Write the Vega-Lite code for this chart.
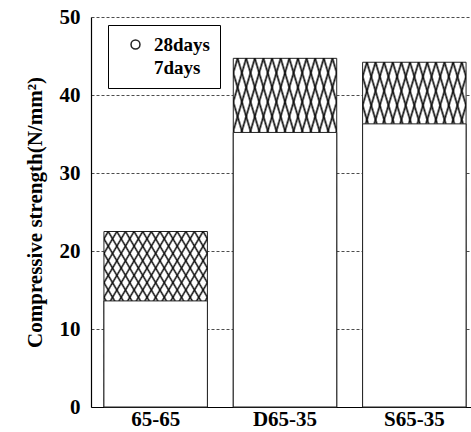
{
  "$schema": "https://vega.github.io/schema/vega-lite/v6.json",
  "autosize": "none",
  "width": 380,
  "height": 390,
  "padding": {"left": 91, "top": 17, "right": 0, "bottom": 25},
  "background": "white",
  "config": {
    "view": {"stroke": null},
    "font": "Liberation Serif"
  },
  "data": {
    "values": [
      {"group": "65-65", "age": "28days", "value": 22.5},
      {"group": "65-65", "age": "7days", "value": 13.6},
      {"group": "D65-35", "age": "28days", "value": 44.7},
      {"group": "D65-35", "age": "7days", "value": 35.2},
      {"group": "S65-35", "age": "28days", "value": 44.2},
      {"group": "S65-35", "age": "7days", "value": 36.3}
    ]
  },
  "encoding": {
    "x": {
      "field": "group", "type": "nominal", "sort": ["65-65", "D65-35", "S65-35"],
      "scale": {"range": [0, 388], "paddingInner": 0.2, "paddingOuter": 0.1},
      "axis": {"title": null, "labelAngle": 0, "ticks": false, "labelPadding": 1, "labelFont": "Liberation Serif", "labelFontSize": 21, "labelFontWeight": "bold", "labelColor": "#000", "domainColor": "#000", "domainWidth": 1.2, "grid": false}
    },
    "y": {
      "field": "value", "type": "quantitative",
      "scale": {"domain": [0, 50], "nice": false},
      "axis": {"title": "Compressive strength(N/mm²)", "values": [0, 10, 20, 30, 40, 50], "ticks": false, "labelPadding": 11, "labelFont": "Liberation Serif", "labelFontSize": 21, "labelFontWeight": "bold", "labelColor": "#000", "titleFont": "Liberation Serif", "titleFontSize": 21, "titleFontWeight": "bold", "titleColor": "#000", "titlePadding": 14, "domainColor": "#000", "domainWidth": 1.2, "grid": true, "gridColor": "#000", "gridDash": [3, 2], "gridWidth": 0.7}
    }
  },
  "layer": [
    {
      "transform": [{"filter": "datum.age === '28days'"}],
      "mark": {"type": "bar", "fill": "white", "strokeWidth": 1},
      "encoding": {
        "stroke": {
          "field": "age", "type": "nominal",
          "scale": {"domain": ["28days", "7days"], "range": ["#222", "white"]},
          "legend": {"title": null, "orient": "none", "legendX": 17, "legendY": 8, "padding": 10, "strokeColor": "#000", "fillColor": "white", "symbolType": "circle", "symbolSize": 80, "symbolFillColor": "white", "symbolStrokeWidth": 1.5, "symbolOffset": 8, "labelFont": "Liberation Serif", "labelFontSize": 19, "labelFontWeight": "bold", "labelColor": "#000", "labelOffset": 9, "rowPadding": 3}
        }
      }
    },
    {
      "transform": [{"filter": "datum.age === '28days'"}],
      "mark": {"type": "bar", "strokeWidth": 0, "fill": {"gradient": "linear", "x1": 0, "y1": 0, "x2": 1, "y2": 1, "stops": [
        {"offset": 0.0125, "color": "rgba(0,0,0,0)"}, {"offset": 0.0208, "color": "#111"}, {"offset": 0.0292, "color": "rgba(0,0,0,0)"},
        {"offset": 0.0542, "color": "rgba(0,0,0,0)"}, {"offset": 0.0625, "color": "#111"}, {"offset": 0.0708, "color": "rgba(0,0,0,0)"},
        {"offset": 0.0958, "color": "rgba(0,0,0,0)"}, {"offset": 0.1042, "color": "#111"}, {"offset": 0.1125, "color": "rgba(0,0,0,0)"},
        {"offset": 0.1375, "color": "rgba(0,0,0,0)"}, {"offset": 0.1458, "color": "#111"}, {"offset": 0.1542, "color": "rgba(0,0,0,0)"},
        {"offset": 0.1792, "color": "rgba(0,0,0,0)"}, {"offset": 0.1875, "color": "#111"}, {"offset": 0.1958, "color": "rgba(0,0,0,0)"},
        {"offset": 0.2208, "color": "rgba(0,0,0,0)"}, {"offset": 0.2292, "color": "#111"}, {"offset": 0.2375, "color": "rgba(0,0,0,0)"},
        {"offset": 0.2625, "color": "rgba(0,0,0,0)"}, {"offset": 0.2708, "color": "#111"}, {"offset": 0.2792, "color": "rgba(0,0,0,0)"},
        {"offset": 0.3042, "color": "rgba(0,0,0,0)"}, {"offset": 0.3125, "color": "#111"}, {"offset": 0.3208, "color": "rgba(0,0,0,0)"},
        {"offset": 0.3458, "color": "rgba(0,0,0,0)"}, {"offset": 0.3542, "color": "#111"}, {"offset": 0.3625, "color": "rgba(0,0,0,0)"},
        {"offset": 0.3875, "color": "rgba(0,0,0,0)"}, {"offset": 0.3958, "color": "#111"}, {"offset": 0.4042, "color": "rgba(0,0,0,0)"},
        {"offset": 0.4292, "color": "rgba(0,0,0,0)"}, {"offset": 0.4375, "color": "#111"}, {"offset": 0.4458, "color": "rgba(0,0,0,0)"},
        {"offset": 0.4708, "color": "rgba(0,0,0,0)"}, {"offset": 0.4792, "color": "#111"}, {"offset": 0.4875, "color": "rgba(0,0,0,0)"},
        {"offset": 0.5125, "color": "rgba(0,0,0,0)"}, {"offset": 0.5208, "color": "#111"}, {"offset": 0.5292, "color": "rgba(0,0,0,0)"},
        {"offset": 0.5542, "color": "rgba(0,0,0,0)"}, {"offset": 0.5625, "color": "#111"}, {"offset": 0.5708, "color": "rgba(0,0,0,0)"},
        {"offset": 0.5958, "color": "rgba(0,0,0,0)"}, {"offset": 0.6042, "color": "#111"}, {"offset": 0.6125, "color": "rgba(0,0,0,0)"},
        {"offset": 0.6375, "color": "rgba(0,0,0,0)"}, {"offset": 0.6458, "color": "#111"}, {"offset": 0.6542, "color": "rgba(0,0,0,0)"},
        {"offset": 0.6792, "color": "rgba(0,0,0,0)"}, {"offset": 0.6875, "color": "#111"}, {"offset": 0.6958, "color": "rgba(0,0,0,0)"},
        {"offset": 0.7208, "color": "rgba(0,0,0,0)"}, {"offset": 0.7292, "color": "#111"}, {"offset": 0.7375, "color": "rgba(0,0,0,0)"},
        {"offset": 0.7625, "color": "rgba(0,0,0,0)"}, {"offset": 0.7708, "color": "#111"}, {"offset": 0.7792, "color": "rgba(0,0,0,0)"},
        {"offset": 0.8042, "color": "rgba(0,0,0,0)"}, {"offset": 0.8125, "color": "#111"}, {"offset": 0.8208, "color": "rgba(0,0,0,0)"},
        {"offset": 0.8458, "color": "rgba(0,0,0,0)"}, {"offset": 0.8542, "color": "#111"}, {"offset": 0.8625, "color": "rgba(0,0,0,0)"},
        {"offset": 0.8875, "color": "rgba(0,0,0,0)"}, {"offset": 0.8958, "color": "#111"}, {"offset": 0.9042, "color": "rgba(0,0,0,0)"},
        {"offset": 0.9292, "color": "rgba(0,0,0,0)"}, {"offset": 0.9375, "color": "#111"}, {"offset": 0.9458, "color": "rgba(0,0,0,0)"},
        {"offset": 0.9708, "color": "rgba(0,0,0,0)"}, {"offset": 0.9792, "color": "#111"}, {"offset": 0.9875, "color": "rgba(0,0,0,0)"}
      ]}}
    },
    {
      "transform": [{"filter": "datum.age === '28days'"}],
      "mark": {"type": "bar", "strokeWidth": 0, "fill": {"gradient": "linear", "x1": 1, "y1": 0, "x2": 0, "y2": 1, "stops": [
        {"offset": 0.0125, "color": "rgba(0,0,0,0)"}, {"offset": 0.0208, "color": "#111"}, {"offset": 0.0292, "color": "rgba(0,0,0,0)"},
        {"offset": 0.0542, "color": "rgba(0,0,0,0)"}, {"offset": 0.0625, "color": "#111"}, {"offset": 0.0708, "color": "rgba(0,0,0,0)"},
        {"offset": 0.0958, "color": "rgba(0,0,0,0)"}, {"offset": 0.1042, "color": "#111"}, {"offset": 0.1125, "color": "rgba(0,0,0,0)"},
        {"offset": 0.1375, "color": "rgba(0,0,0,0)"}, {"offset": 0.1458, "color": "#111"}, {"offset": 0.1542, "color": "rgba(0,0,0,0)"},
        {"offset": 0.1792, "color": "rgba(0,0,0,0)"}, {"offset": 0.1875, "color": "#111"}, {"offset": 0.1958, "color": "rgba(0,0,0,0)"},
        {"offset": 0.2208, "color": "rgba(0,0,0,0)"}, {"offset": 0.2292, "color": "#111"}, {"offset": 0.2375, "color": "rgba(0,0,0,0)"},
        {"offset": 0.2625, "color": "rgba(0,0,0,0)"}, {"offset": 0.2708, "color": "#111"}, {"offset": 0.2792, "color": "rgba(0,0,0,0)"},
        {"offset": 0.3042, "color": "rgba(0,0,0,0)"}, {"offset": 0.3125, "color": "#111"}, {"offset": 0.3208, "color": "rgba(0,0,0,0)"},
        {"offset": 0.3458, "color": "rgba(0,0,0,0)"}, {"offset": 0.3542, "color": "#111"}, {"offset": 0.3625, "color": "rgba(0,0,0,0)"},
        {"offset": 0.3875, "color": "rgba(0,0,0,0)"}, {"offset": 0.3958, "color": "#111"}, {"offset": 0.4042, "color": "rgba(0,0,0,0)"},
        {"offset": 0.4292, "color": "rgba(0,0,0,0)"}, {"offset": 0.4375, "color": "#111"}, {"offset": 0.4458, "color": "rgba(0,0,0,0)"},
        {"offset": 0.4708, "color": "rgba(0,0,0,0)"}, {"offset": 0.4792, "color": "#111"}, {"offset": 0.4875, "color": "rgba(0,0,0,0)"},
        {"offset": 0.5125, "color": "rgba(0,0,0,0)"}, {"offset": 0.5208, "color": "#111"}, {"offset": 0.5292, "color": "rgba(0,0,0,0)"},
        {"offset": 0.5542, "color": "rgba(0,0,0,0)"}, {"offset": 0.5625, "color": "#111"}, {"offset": 0.5708, "color": "rgba(0,0,0,0)"},
        {"offset": 0.5958, "color": "rgba(0,0,0,0)"}, {"offset": 0.6042, "color": "#111"}, {"offset": 0.6125, "color": "rgba(0,0,0,0)"},
        {"offset": 0.6375, "color": "rgba(0,0,0,0)"}, {"offset": 0.6458, "color": "#111"}, {"offset": 0.6542, "color": "rgba(0,0,0,0)"},
        {"offset": 0.6792, "color": "rgba(0,0,0,0)"}, {"offset": 0.6875, "color": "#111"}, {"offset": 0.6958, "color": "rgba(0,0,0,0)"},
        {"offset": 0.7208, "color": "rgba(0,0,0,0)"}, {"offset": 0.7292, "color": "#111"}, {"offset": 0.7375, "color": "rgba(0,0,0,0)"},
        {"offset": 0.7625, "color": "rgba(0,0,0,0)"}, {"offset": 0.7708, "color": "#111"}, {"offset": 0.7792, "color": "rgba(0,0,0,0)"},
        {"offset": 0.8042, "color": "rgba(0,0,0,0)"}, {"offset": 0.8125, "color": "#111"}, {"offset": 0.8208, "color": "rgba(0,0,0,0)"},
        {"offset": 0.8458, "color": "rgba(0,0,0,0)"}, {"offset": 0.8542, "color": "#111"}, {"offset": 0.8625, "color": "rgba(0,0,0,0)"},
        {"offset": 0.8875, "color": "rgba(0,0,0,0)"}, {"offset": 0.8958, "color": "#111"}, {"offset": 0.9042, "color": "rgba(0,0,0,0)"},
        {"offset": 0.9292, "color": "rgba(0,0,0,0)"}, {"offset": 0.9375, "color": "#111"}, {"offset": 0.9458, "color": "rgba(0,0,0,0)"},
        {"offset": 0.9708, "color": "rgba(0,0,0,0)"}, {"offset": 0.9792, "color": "#111"}, {"offset": 0.9875, "color": "rgba(0,0,0,0)"}
      ]}}
    },
    {
      "transform": [{"filter": "datum.age === '7days'"}],
      "mark": {"type": "bar", "fill": "white", "stroke": "#222", "strokeWidth": 1}
    }
  ]
}
